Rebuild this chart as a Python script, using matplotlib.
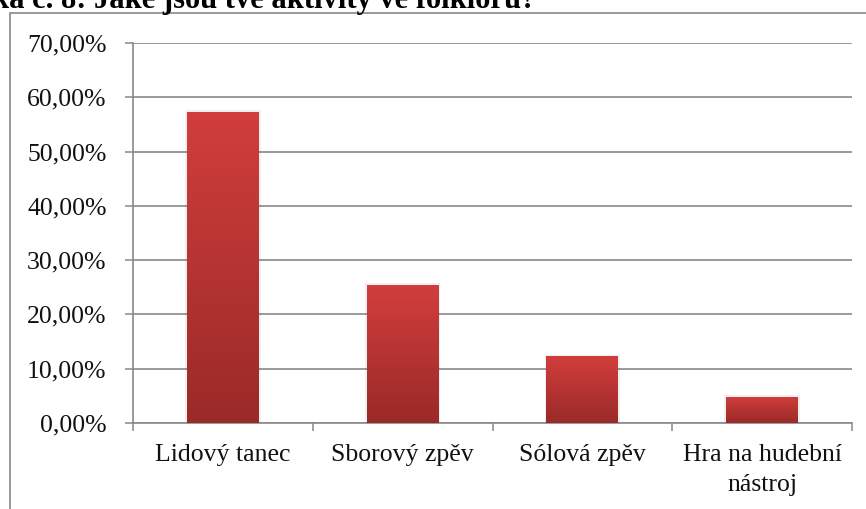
import numpy as np
import matplotlib.pyplot as plt
from matplotlib.patches import Rectangle
from matplotlib.colors import LinearSegmentedColormap
from matplotlib.ticker import FuncFormatter, MultipleLocator


# data
categories = ["Lidový tanec", "Sborový zpěv", "Sólová zpěv", "Hra na hudební\nnástroj"]
shares = [0.573, 0.254, 0.123, 0.048]
title = "ka č. 8: Jaké jsou tvé aktivity ve folkloru?"

plt.rcParams['font.family'] = ['Liberation Serif', 'DejaVu Serif']

gray = "#898989"

fig = plt.figure(figsize=(8.66, 5.09), dpi=100)
ax = fig.add_axes([133/866, 86/509, 719/866, 380/509])

# red gradient, lighter at top, darker at bottom
redmap = LinearSegmentedColormap.from_list("red", ["#9a2a28", "#d13e3c"])
grad = np.linspace(0, 1, 256).reshape(-1, 1)

x = np.arange(len(categories))
bars = ax.bar(x, shares, width=0.4, color="#c03a37", zorder=3)
for b in bars:
    x0, y0 = b.get_x(), b.get_y()
    w, h = b.get_width(), b.get_height()
    # soft shadow behind bar
    ax.add_patch(Rectangle((x0 - 0.01, y0), w + 0.02, h + 0.003, color="#000000",
                           alpha=0.06, zorder=2, lw=0))
    im = ax.imshow(grad, cmap=redmap, aspect="auto", origin="lower",
                   extent=(x0, x0 + w, y0, y0 + h), zorder=4)
    im.set_clip_path(b)

ax.set_xlim(-0.5, len(categories) - 0.5)
ax.set_ylim(0, 0.7)

# y axis
ax.yaxis.set_major_locator(MultipleLocator(0.1))
ax.yaxis.set_major_formatter(FuncFormatter(lambda v, p: ("%.2f%%" % (v * 100)).replace(".", ",")))
ax.yaxis.grid(True, color=gray, lw=1.2, zorder=1)
ax.tick_params(axis="y", direction="out", length=6, width=1.1, color=gray, pad=13,
               labelsize=18.5, labelcolor="#111111")

# x axis: ticks on category boundaries, labels in the middle
ax.set_xticks(np.arange(len(categories) + 1) - 0.5)
ax.set_xticklabels([])
ax.set_xticks(x, minor=True)
ax.set_xticklabels(categories, minor=True, fontsize=18.5, color="#111111", linespacing=1.5)
ax.tick_params(axis="x", which="major", direction="out", length=6, width=1.1, color=gray)
ax.tick_params(axis="x", which="minor", length=0, pad=15)

for s in ["top", "right"]:
    ax.spines[s].set_visible(False)
for s in ["left", "bottom"]:
    ax.spines[s].set_color(gray)
    ax.spines[s].set_linewidth(1.2)

# outer chart frame, cut by the picture edges
fig.patches.append(Rectangle((10/866, -0.05), 1.0, (509 - 13)/509 + 0.05,
                             transform=fig.transFigure, fill=False,
                             edgecolor=gray, lw=1.2))

# cropped heading on top
fig.text(-8/866, 1 - 8/509, title, fontsize=22, fontweight="bold",
         ha="left", va="baseline", color="#000000")

fig.savefig("out.png", dpi=100)
